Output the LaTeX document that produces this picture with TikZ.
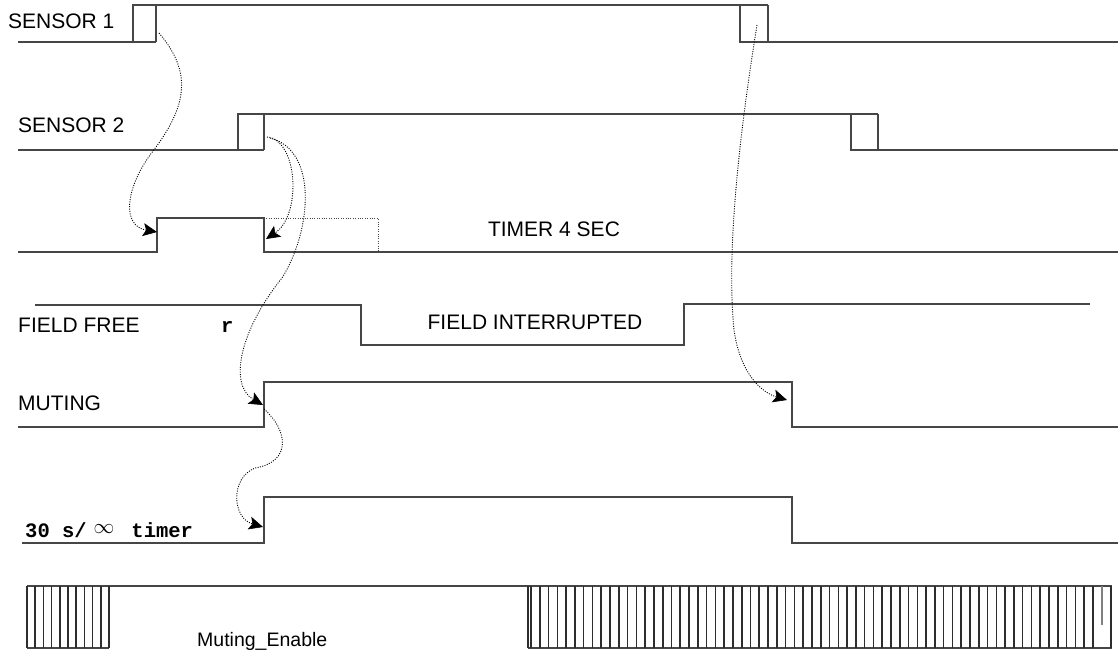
\documentclass[tikz,border=0pt]{standalone}
\usepackage{fontspec}
\setmainfont{Liberation Sans}
\newfontfamily\monofont{Liberation Mono}
\usetikzlibrary{arrows.meta}
\definecolor{sig}{RGB}{70,70,70}
\definecolor{hat}{RGB}{45,45,45}
\tikzset{
  signal/.style={draw=sig, line width=1.3pt},
  hatch/.style={draw=hat, line width=1.6pt},
  link/.style={draw=black, line width=0.9pt, dash pattern=on 1pt off 1.4pt,
    -{Stealth[length=14pt,width=13pt,inset=3pt,line width=0.6pt]}},
  fine/.style={draw=sig, line width=0.9pt, dash pattern=on 1pt off 1.4pt},
  lab/.style={anchor=base west, inner sep=0pt, font=\fontsize{21}{24}\selectfont},
  clab/.style={anchor=base, inner sep=0pt, font=\fontsize{21}{24}\selectfont},
  mlab/.style={anchor=base west, inner sep=0pt, font=\monofont\bfseries\fontsize{20.5}{24}\selectfont},
}
\begin{document}
\begin{tikzpicture}[x=1pt,y=-1pt]
\useasboundingbox (0,0) rectangle (1118,653);
% labels
\node[lab] (s1) at (8,28) {SENSOR 1};
\node[lab] (s2) at (18,132) {SENSOR 2};
\node[clab] (t4) at (554,236) {TIMER 4 SEC};
\node[lab] (ff) at (18,332) {FIELD FREE};
\node[mlab] (r) at (221,332) {r};
\node[clab] (fi) at (535,329) {FIELD INTERRUPTED};
\node[lab] (mu) at (18,410) {MUTING};
\node[mlab] (tm) at (25,537) {30 s/\hspace{7pt}\raisebox{4pt}{\fontsize{20}{24}\selectfont$\infty$}\hspace{17pt}timer};
\node[lab, font=\fontsize{19.5}{24}\selectfont] (me) at (197,646) {Muting\_Enable};
% SENSOR 1
\draw[signal] (18,42) -- (156,42) (133,42) -- (133,5) -- (768,5) (156,5) -- (156,42)
  (740,5) -- (740,42) -- (1118,42) (768,5) -- (768,42);
% SENSOR 2
\draw[signal] (18,150) -- (264,150) (238,150) -- (238,114) -- (878,114) (264,114) -- (264,150)
  (851,114) -- (851,150) -- (1118,150) (878,114) -- (878,150);
% TIMER
\draw[signal] (18,252) -- (157,252) -- (157,218) -- (264,218) -- (264,252) -- (1118,252);
\draw[fine] (264,218) -- (378,218) -- (378,252);
% FIELD
\draw[signal] (35,305) -- (361,305) -- (361,345) -- (684,345) -- (684,304) -- (1090,304);
% MUTING
\draw[signal] (18,427) -- (264,427) -- (264,382) -- (792,382) -- (792,427) -- (1118,427);
% 30 s timer
\draw[signal] (22,543) -- (264,543) -- (264,497) -- (792,497) -- (792,543) -- (1118,543);
% Muting enable
\draw[signal] (27,586) -- (1112,586);
\draw[signal] (27,648) -- (109,648) (528,648) -- (1112,648);
\foreach \i in {0,...,10} \draw[hatch] ({27+\i*8.2},586) -- ({27+\i*8.2},648);
\draw[hatch] (528,586) -- (528,648);
\foreach \i in {0,...,64} \draw[hatch] ({531+\i*8.78},586) -- ({531+\i*8.78},648);
\draw[hatch, draw=gray] (1101.7,586) -- (1101.7,625);
\draw[hatch] (1111,586) -- (1111,648);
% connector anchor points
\coordinate (a0) at (159,33);
\coordinate (a1) at (157,232);
\coordinate (b0) at (267,137);
\coordinate (b1) at (266,239);
\coordinate (c0) at (270,138);
\coordinate (c1) at (263,405);
\coordinate (d0) at (264,409);
\coordinate (d1) at (263,527);
\coordinate (e0) at (757,25);
\coordinate (e1) at (787,400);
% connectors
\draw[link] (a0) .. controls (195,75) and (185,110) .. (150,155) .. controls (125,190) and (122,226) .. (a1);
\draw[link] (b0) .. controls (298,140) and (302,215) .. (b1);
\draw[link] (c0) .. controls (318,150) and (312,230) .. (282,278) .. controls (240,330) and (228,385) .. (c1);
\draw[link] (d0) .. controls (288,430) and (292,462) .. (255,468) .. controls (230,478) and (232,518) .. (d1);
\draw[link] (e0) .. controls (740,130) and (726,250) .. (734,330) .. controls (740,372) and (760,392) .. (e1);
\end{tikzpicture}
\end{document}
